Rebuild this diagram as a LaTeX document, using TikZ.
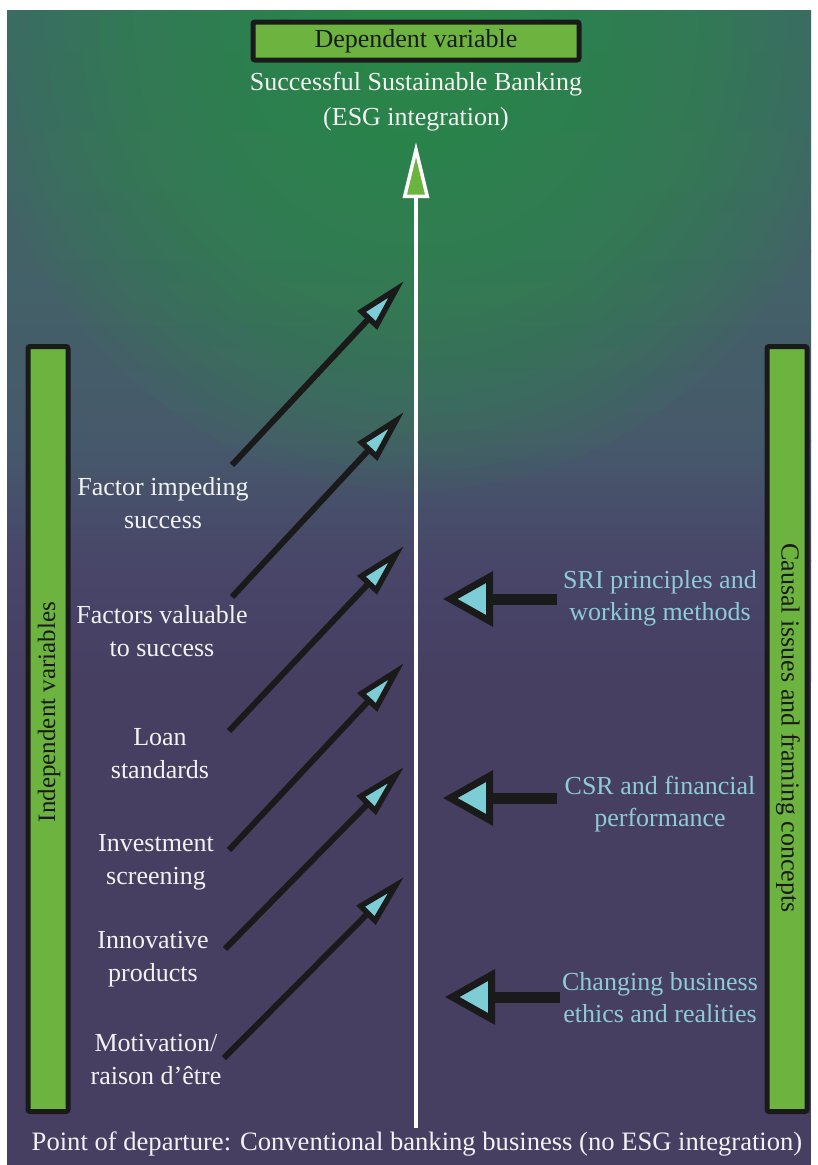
\documentclass[tikz,border=0pt]{standalone}
\usepackage{fontspec}
\setmainfont{Liberation Serif}
\usetikzlibrary{arrows.meta}
\definecolor{barg}{HTML}{6DB33F}
\definecolor{glowg}{HTML}{2A9448}
\definecolor{bga}{HTML}{40646A}
\definecolor{bgb}{HTML}{436267}
\definecolor{bgc}{HTML}{46596B}
\definecolor{bgd}{HTML}{484669}
\definecolor{bge}{HTML}{463F62}
\definecolor{headc}{HTML}{7CCDD6}
\definecolor{rtext}{HTML}{8ECBD6}
\definecolor{ink}{HTML}{1A1A1A}
\tikzset{
  varbar/.style={draw=ink, line width=5pt, fill=barg, rounded corners=2pt},
  wtext/.style={text=white!95!black, align=center, font=\fontsize{26}{33}\selectfont},
  ctext/.style={text=rtext, align=center, font=\fontsize{26}{32}\selectfont},
  diag/.style={draw=ink, line width=6pt, -{Triangle[length=54pt, width=26pt, fill=headc, line width=5.5pt]}},
  horiz/.style={draw=ink, line width=11pt, -{Triangle[length=50pt, width=54pt, fill=headc, line width=7pt]}},
}
\begin{document}
\begin{tikzpicture}[x=1pt, y=-1pt]
\useasboundingbox (0,0) rectangle (817,1165);
% background
\fill[white] (0,0) rectangle (817,1165);
\begin{scope}
  \clip (7,10) rectangle (811,1165);
  \shade[top color=bga, bottom color=bgb] (7,10) rectangle (811,251);
  \shade[top color=bgb, bottom color=bgc] (7,250) rectangle (811,441);
  \shade[top color=bgc, bottom color=bgd] (7,440) rectangle (811,561);
  \shade[top color=bgd, bottom color=bge] (7,560) rectangle (811,681);
  \fill[bge] (7,680) rectangle (811,1165);
  \foreach \k in {1,...,25} {
    \fill[glowg, opacity=0.07] (416,20) ellipse [x radius={440*(1-(\k-1)/25)}, y radius={470*(1-(\k-1)/25)}];
  }
\end{scope}

% top box and goal text
\node[varbar, minimum width=326pt, minimum height=38pt, inner sep=0pt, font=\fontsize{26}{30}\selectfont, text=ink] (dep) at (416,41) {Dependent variable};
\node[wtext, font=\fontsize{26}{35}\selectfont] (ssb) at (416,102) {Successful Sustainable Banking\\(ESG integration)};

% main arrow
\coordinate (start) at (416,1128);
\coordinate (goal) at (416,142);
\draw[white, line width=4.5pt, -{Triangle[length=56pt, width=26pt, fill=barg, line width=3.5pt]}] (start) -- (goal);

% side bars
\node[varbar, minimum width=40pt, minimum height=765pt, inner sep=0pt] (lbar) at (48,729) {};
\node[rotate=90, font=\fontsize{25}{28}\selectfont, text=ink] (ltxt) at (49,712) {Independent variables};
\node[varbar, minimum width=40pt, minimum height=765pt, inner sep=0pt] (rbar) at (787,729) {};
\node[rotate=-90, font=\fontsize{26}{30}\selectfont, text=ink] (rtxt) at (788,728) {Causal issues and framing concepts};

% left labels
\node[wtext] (l1) at (163,503) {Factor impeding\\success};
\node[wtext] (l2) at (162,631) {Factors valuable\\to success};
\node[wtext] (l3) at (160,754) {Loan\\standards};
\node[wtext] (l4) at (156,862) {Investment\\screening};
\node[wtext] (l5) at (153,959) {Innovative\\products};
\node[wtext] (l6) at (156,1060) {Motivation/\\raison d'être};

% diagonal arrows
\coordinate (a1) at (232,465); \coordinate (b1) at (404,281);
\coordinate (a2) at (232,597); \coordinate (b2) at (404,412);
\coordinate (a3) at (229,731); \coordinate (b3) at (404,546);
\coordinate (a4) at (229,850); \coordinate (b4) at (404,663);
\coordinate (a5) at (225,949); \coordinate (b5) at (404,767);
\coordinate (a6) at (224,1058); \coordinate (b6) at (404,877);
\foreach \i in {1,...,6} { \draw[diag] (a\i) -- (b\i); }

% right labels
\node[ctext] (r1) at (660,598) {SRI principles and\\working methods};
\node[ctext] (r2) at (660,804) {CSR and financial\\performance};
\node[ctext] (r3) at (660,998) {Changing business\\ethics and realities};

% horizontal arrows
\coordinate (h1) at (557,599); \coordinate (k1) at (443,599);
\coordinate (h2) at (557,798); \coordinate (k2) at (443,798);
\coordinate (h3) at (560,997); \coordinate (k3) at (445,997);
\foreach \i in {1,2,3} { \draw[horiz] (h\i) -- (k\i); }

% bottom text
\node[wtext, font=\fontsize{26.6}{33}\selectfont] (pod) at (417,1144) {Point of departure: Conventional banking business (no ESG integration)};
\end{tikzpicture}
\end{document}
